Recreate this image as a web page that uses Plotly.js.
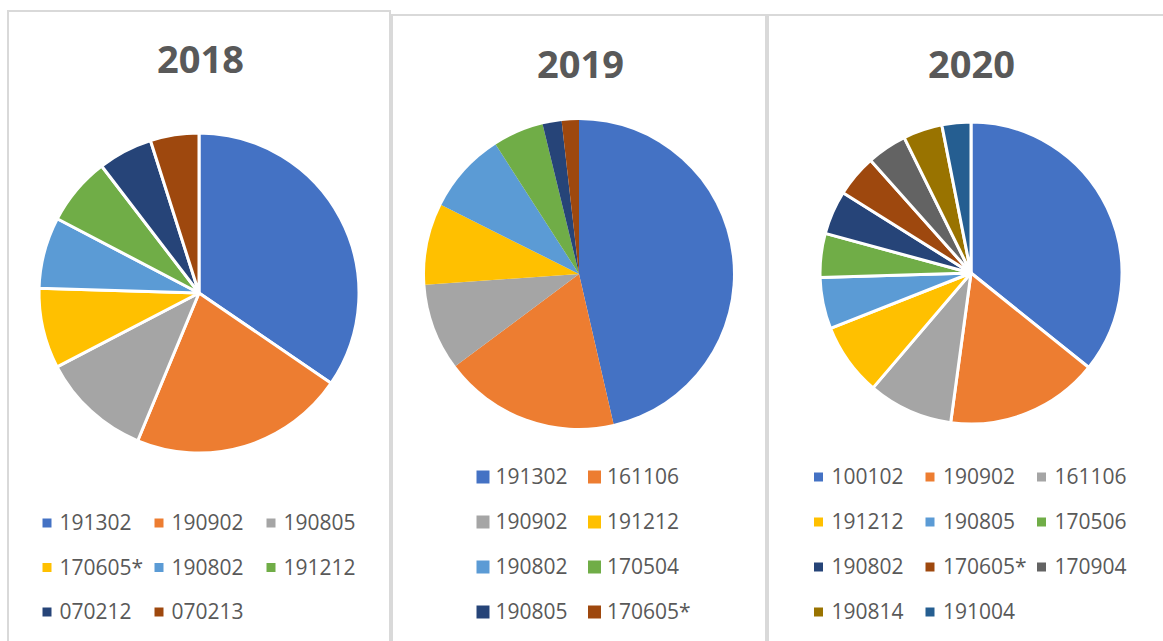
<!DOCTYPE html>
<html>
<head>
<meta charset="utf-8">
<script src="https://cdn.plot.ly/plotly-3.0.1.min.js"></script>
<style>
  html, body { margin: 0; padding: 0; background: #ffffff; }
  #chart { width: 1163px; height: 641px; }
</style>
</head>
<body>
<div id="chart"></div>
<script>
// ---- data ----
var years = ['2018', '2019', '2020'];

var cats2018 = ['191302', '190902', '190805', '170605*', '190802', '191212', '070212', '070213'];
var vals2018 = [34.5, 21.7, 11.1, 8.1, 7.2, 6.9, 5.5, 4.9];

var cats2019 = ['191302', '161106', '190902', '191212', '190802', '170504', '190805', '170605*'];
var vals2019 = [46.4, 18.4, 9.1, 8.5, 8.5, 5.3, 2.0, 1.8];

var cats2020 = ['100102', '190902', '161106', '191212', '190805', '170506', '190802', '170605*', '170904', '190814', '191004'];
var vals2020 = [35.8, 16.4, 9.1, 7.8, 5.5, 4.7, 4.7, 4.5, 4.3, 4.2, 3.1];

var palette = ['#4472C4', '#ED7D31', '#A5A5A5', '#FFC000', '#5B9BD5', '#70AD47',
               '#264478', '#9E480E', '#636363', '#997300', '#255E91'];

// ---- layout settings (pixels) ----
var W = 1163, H = 641;
var panels = [
  { cats: cats2018, vals: vals2018, pie: [38, 360, 133, 453], line: 3,
    titleX: 200, titleY: 58, cols: 3, legX0: 47, legDX: 112, legY0: 523, legDY: 44.5,
    mSize: 9, textGap: 12.5, border: [8, 390, 11] },
  { cats: cats2019, vals: vals2019, pie: [425, 733, 120, 428], line: 0,
    titleX: 580, titleY: 63, cols: 2, legX0: 483, legDX: 111.5, legY0: 477, legDY: 45,
    mSize: 13, textGap: 12.5, border: [392, 766, 15] },
  { cats: cats2020, vals: vals2020, pie: [820, 1122, 122, 424], line: 3,
    titleX: 971, titleY: 63, cols: 3, legX0: 818.5, legDX: 111.5, legY0: 477, legDY: 45,
    mSize: 9, textGap: 13, border: [768, 1175, 15] }
];

var traces = [];
var annotations = [];
var shapes = [];

panels.forEach(function (p, k) {
  var n = p.cats.length;
  traces.push({
    type: 'pie',
    labels: p.cats,
    values: p.vals,
    sort: false,
    direction: 'clockwise',
    rotation: 0,
    textinfo: 'none',
    hoverinfo: 'label+percent',
    showlegend: false,
    marker: { colors: palette.slice(0, n), line: { color: '#ffffff', width: p.line } },
    domain: { x: [p.pie[0] / W, p.pie[1] / W], y: [1 - p.pie[3] / H, 1 - p.pie[2] / H] }
  });

  // legend built as scatter markers + text on a pixel axis
  var mx = [], my = [], tx = [], ty = [];
  for (var i = 0; i < n; i++) {
    var c = i % p.cols, r = Math.floor(i / p.cols);
    mx.push(p.legX0 + c * p.legDX);
    my.push(p.legY0 + r * p.legDY);
    tx.push(p.legX0 + c * p.legDX + p.textGap);
    ty.push(p.legY0 + r * p.legDY + 2);
  }
  traces.push({
    type: 'scatter', mode: 'markers', x: mx, y: my, hoverinfo: 'skip', showlegend: false,
    marker: { symbol: 'square', size: p.mSize, color: palette.slice(0, n), line: { width: 0 } }
  });
  traces.push({
    type: 'scatter', mode: 'text', x: tx, y: ty, text: p.cats, textposition: 'middle right',
    hoverinfo: 'skip', showlegend: false,
    textfont: { family: 'Open Sans, sans-serif', size: 21, color: '#595959' }
  });

  annotations.push({
    xref: 'x', yref: 'y', x: p.titleX, y: p.titleY, text: '<b>' + years[k] + '</b>',
    showarrow: false, xanchor: 'center', yanchor: 'middle',
    font: { family: 'Open Sans, sans-serif', size: 38, color: '#595959' }
  });

  shapes.push({
    type: 'rect', xref: 'x', yref: 'y', x0: p.border[0], x1: p.border[1], y0: p.border[2], y1: H + 20,
    line: { color: '#D9D9D9', width: 2 }, fillcolor: 'rgba(0,0,0,0)', layer: 'below'
  });
});

var layout = {
  width: W, height: H,
  margin: { l: 0, r: 0, t: 0, b: 0, pad: 0 },
  paper_bgcolor: '#ffffff', plot_bgcolor: 'rgba(0,0,0,0)',
  xaxis: { range: [0, W], visible: false, fixedrange: true, domain: [0, 1] },
  yaxis: { range: [H, 0], visible: false, fixedrange: true, domain: [0, 1] },
  showlegend: false,
  annotations: annotations,
  shapes: shapes
};

Plotly.newPlot('chart', traces, layout, { displayModeBar: false, staticPlot: true });
</script>
</body>
</html>
